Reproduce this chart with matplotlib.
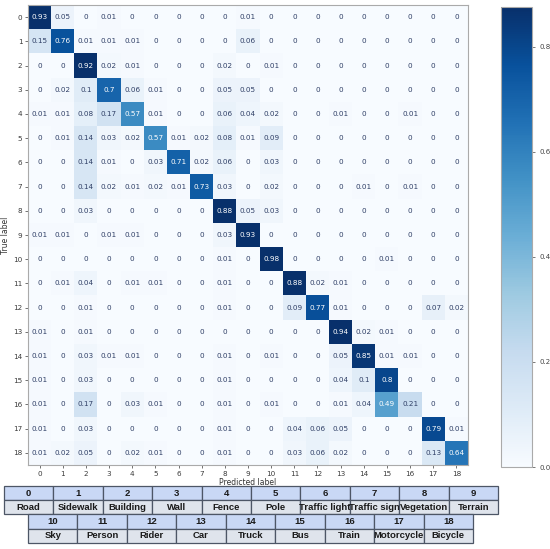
import numpy as np
import matplotlib
matplotlib.use("Agg")
import matplotlib.pyplot as plt

# normalized confusion matrix (rows: true, cols: predicted)
cm = [
    [0.93, 0.05, 0, 0.01, 0, 0, 0, 0, 0, 0.01, 0, 0, 0, 0, 0, 0, 0, 0, 0],
    [0.15, 0.76, 0.01, 0.01, 0.01, 0, 0, 0, 0, 0.06, 0, 0, 0, 0, 0, 0, 0, 0, 0],
    [0, 0, 0.92, 0.02, 0.01, 0, 0, 0, 0.02, 0, 0.01, 0, 0, 0, 0, 0, 0, 0, 0],
    [0, 0.02, 0.1, 0.7, 0.06, 0.01, 0, 0, 0.05, 0.05, 0, 0, 0, 0, 0, 0, 0, 0, 0],
    [0.01, 0.01, 0.08, 0.17, 0.57, 0.01, 0, 0, 0.06, 0.04, 0.02, 0, 0, 0.01, 0, 0, 0.01, 0, 0],
    [0, 0.01, 0.14, 0.03, 0.02, 0.57, 0.01, 0.02, 0.08, 0.01, 0.09, 0, 0, 0, 0, 0, 0, 0, 0],
    [0, 0, 0.14, 0.01, 0, 0.03, 0.71, 0.02, 0.06, 0, 0.03, 0, 0, 0, 0, 0, 0, 0, 0],
    [0, 0, 0.14, 0.02, 0.01, 0.02, 0.01, 0.73, 0.03, 0, 0.02, 0, 0, 0, 0.01, 0, 0.01, 0, 0],
    [0, 0, 0.03, 0, 0, 0, 0, 0, 0.88, 0.05, 0.03, 0, 0, 0, 0, 0, 0, 0, 0],
    [0.01, 0.01, 0, 0.01, 0.01, 0, 0, 0, 0.03, 0.93, 0, 0, 0, 0, 0, 0, 0, 0, 0],
    [0, 0, 0, 0, 0, 0, 0, 0, 0.01, 0, 0.98, 0, 0, 0, 0, 0.01, 0, 0, 0],
    [0, 0.01, 0.04, 0, 0.01, 0.01, 0, 0, 0.01, 0, 0, 0.88, 0.02, 0.01, 0, 0, 0, 0, 0],
    [0, 0, 0.01, 0, 0, 0, 0, 0, 0.01, 0, 0, 0.09, 0.77, 0.01, 0, 0, 0, 0.07, 0.02],
    [0.01, 0, 0.01, 0, 0, 0, 0, 0, 0, 0, 0, 0, 0, 0.94, 0.02, 0.01, 0, 0, 0],
    [0.01, 0, 0.03, 0.01, 0.01, 0, 0, 0, 0.01, 0, 0.01, 0, 0, 0.05, 0.85, 0.01, 0.01, 0, 0],
    [0.01, 0, 0.03, 0, 0, 0, 0, 0, 0.01, 0, 0, 0, 0, 0.04, 0.1, 0.8, 0, 0, 0],
    [0.01, 0, 0.17, 0, 0.03, 0.01, 0, 0, 0.01, 0, 0.01, 0, 0, 0.01, 0.04, 0.49, 0.21, 0, 0],
    [0.01, 0, 0.03, 0, 0, 0, 0, 0, 0.01, 0, 0, 0.04, 0.06, 0.05, 0, 0, 0, 0.79, 0.01],
    [0.01, 0.02, 0.05, 0, 0.02, 0.01, 0, 0, 0.01, 0, 0, 0.03, 0.06, 0.02, 0, 0, 0, 0.13, 0.64],
]
class_ids = [str(i) for i in range(19)]
class_names = ["Road", "Sidewalk", "Building", "Wall", "Fence", "Pole",
               "Traffic light", "Traffic sign", "Vegetation", "Terrain",
               "Sky", "Person", "Rider", "Car", "Truck", "Bus", "Train",
               "Motorcycle", "Bicycle"]

W, H = 550, 549
fig = plt.figure(figsize=(W / 100, H / 100), dpi=100)


def px_axes(x0, y0, x1, y1):
    # pixel box (top-left origin) -> figure axes
    return fig.add_axes([x0 / W, 1 - y1 / H, (x1 - x0) / W, (y1 - y0) / H])


cm = np.array(cm)
vmin, vmax = 0.0, 0.876
cmap = plt.get_cmap("Blues")

ax = px_axes(28, 5, 468, 465)
im = ax.imshow(cm, cmap=cmap, vmin=vmin, vmax=vmax, aspect="auto",
               interpolation="nearest")
thresh = (vmin + vmax) / 2
for i in range(cm.shape[0]):
    for j in range(cm.shape[1]):
        v = cm[i, j]
        ax.text(j, i, f"{v:g}", ha="center", va="center", fontsize=5.2,
                color="white" if v > thresh else "#2f3f66")

ax.set_xticks(range(19))
ax.set_yticks(range(19))
ax.set_xticklabels(class_ids)
ax.set_yticklabels(class_ids)
ax.tick_params(labelsize=5.2, length=2, width=0.5, pad=2, colors="#3a3a3a")
ax.set_xlabel("Predicted label", fontsize=5.5, labelpad=1, color="#333333")
ax.set_ylabel("True label", fontsize=5.5, labelpad=2, color="#333333")
for s in ax.spines.values():
    s.set_color("#aaaaaa")
    s.set_linewidth(0.8)

cax = px_axes(501, 7, 532, 467)
cb = fig.colorbar(im, cax=cax, ticks=[0.0, 0.2, 0.4, 0.6, 0.8])
cb.ax.tick_params(labelsize=5, length=2, width=0.5, colors="#444444")
cb.outline.set_edgecolor("#aaaaaa")
cb.outline.set_linewidth(0.8)


def legend_table(box, ids, names):
    tax = px_axes(*box)
    tax.axis("off")
    tb = tax.table(cellText=[ids, names], cellLoc="center", bbox=[0, 0, 1, 1])
    tb.auto_set_font_size(False)
    for (r, c), cell in tb.get_celld().items():
        cell.set_facecolor("#c9d8f5" if r == 0 else "#dfe4ec")
        cell.set_edgecolor("#4d5666")
        cell.set_linewidth(0.9)
        t = cell.get_text()
        t.set_fontsize(6.8)
        t.set_fontweight("bold")
        t.set_fontfamily("Liberation Sans")
        t.set_color("#1a1a1a")


legend_table((4, 486, 498, 514), class_ids[:10], class_names[:10])
legend_table((28, 514, 473, 543), class_ids[10:], class_names[10:])

fig.savefig("out.png", dpi=100)
